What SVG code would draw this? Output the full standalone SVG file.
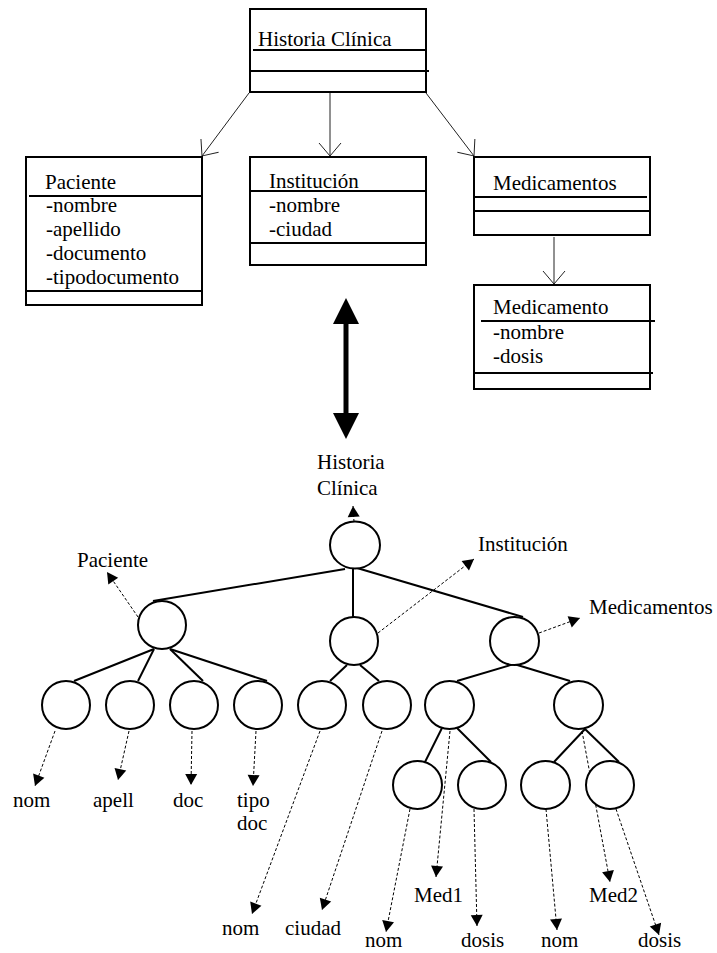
<svg xmlns="http://www.w3.org/2000/svg" width="717" height="953" viewBox="0 0 717 953" font-family="'Liberation Serif', 'Times New Roman', Times, 'DejaVu Serif', serif" font-size="21">
<style>
  text { font-family: "Liberation Serif", "Times New Roman", Times, "DejaVu Serif", serif; font-size: 21px; fill: #000; }
  .box { fill: #fff; stroke: #000; stroke-width: 2; }
  .sep { stroke: #000; stroke-width: 2; fill: none; }
  .uarr { stroke: #222; stroke-width: 1; fill: none; marker-end: url(#open); }
  .edge { stroke: #000; stroke-width: 2; fill: none; }
  .node { fill: #fff; stroke: #000; stroke-width: 2; }
  .dot { stroke: #000; stroke-width: 1; stroke-dasharray: 3 2; fill: none; marker-end: url(#tri); }
</style>
<defs>
  <marker id="open" markerUnits="userSpaceOnUse" markerWidth="16" markerHeight="24" refX="14" refY="11" orient="auto" overflow="visible">
    <path d="M1,0 L14,11 L1,22" fill="none" stroke="#222" stroke-width="1"/>
  </marker>
  <marker id="tri" markerUnits="userSpaceOnUse" markerWidth="12" markerHeight="12" refX="11" refY="6" orient="auto" overflow="visible">
    <path d="M0,0 L11,6 L0,12 z" fill="#000"/>
  </marker>
</defs>
<rect width="717" height="953" fill="#fff"/>

<g id="connectors">
  <!-- UML associations -->
  <line class="uarr" x1="249" y1="93" x2="202" y2="156"/>
  <line class="uarr" x1="330" y1="93" x2="330" y2="156"/>
  <line class="uarr" x1="426" y1="93" x2="474" y2="156"/>
  <line class="uarr" x1="554" y1="237" x2="554" y2="284"/>
  <!-- big double arrow -->
  <line x1="346" y1="323" x2="346" y2="414" stroke="#000" stroke-width="5"/>
  <path d="M346,298 L333,324 L359,324 Z" fill="#000"/>
  <path d="M346,439 L333,413 L359,413 Z" fill="#000"/>
  <!-- tree edges -->
  <line class="edge" x1="345" y1="569" x2="153" y2="601"/>
  <line class="edge" x1="353" y1="569" x2="353" y2="617"/>
  <line class="edge" x1="357" y1="568" x2="523" y2="617"/>
  <line class="edge" x1="154" y1="649" x2="74" y2="681"/>
  <line class="edge" x1="154" y1="649" x2="138" y2="681"/>
  <line class="edge" x1="170" y1="649" x2="203" y2="681"/>
  <line class="edge" x1="170" y1="649" x2="267" y2="681"/>
  <line class="edge" x1="347" y1="665" x2="330" y2="681"/>
  <line class="edge" x1="360" y1="665" x2="379" y2="681"/>
  <line class="edge" x1="514" y1="664" x2="457" y2="681"/>
  <line class="edge" x1="514" y1="664" x2="570" y2="681"/>
  <line class="edge" x1="442" y1="728" x2="425" y2="762"/>
  <line class="edge" x1="457" y1="728" x2="491" y2="762"/>
  <line class="edge" x1="585" y1="729" x2="554" y2="762"/>
  <line class="edge" x1="585" y1="729" x2="619" y2="762"/>
  <!-- dotted label arrows -->
  <line class="dot" x1="354" y1="522" x2="353" y2="506"/>
  <line class="dot" x1="138" y1="617" x2="107" y2="572"/>
  <line class="dot" x1="378" y1="633" x2="474" y2="559"/>
  <line class="dot" x1="539" y1="633" x2="580" y2="618"/>
  <line class="dot" x1="55" y1="731" x2="35" y2="786"/>
  <line class="dot" x1="129" y1="731" x2="118" y2="780"/>
  <line class="dot" x1="192" y1="731" x2="191" y2="785"/>
  <line class="dot" x1="256" y1="731" x2="253" y2="786"/>
  <line class="dot" x1="320" y1="731" x2="252" y2="914"/>
  <line class="dot" x1="382" y1="731" x2="322" y2="910"/>
  <line class="dot" x1="450" y1="731" x2="436" y2="877"/>
  <line class="dot" x1="410" y1="809" x2="386" y2="932"/>
  <line class="dot" x1="474" y1="809" x2="477" y2="926"/>
  <line class="dot" x1="546" y1="809" x2="557" y2="930"/>
  <line class="dot" x1="582" y1="731" x2="610" y2="882"/>
  <line class="dot" x1="616" y1="809" x2="659" y2="935"/>
</g>

<g id="class-historia">
  <rect class="box" x="250" y="9" width="176" height="83"/>
  <line class="sep" x1="253" y1="50" x2="426" y2="50"/>
  <line class="sep" x1="250" y1="71" x2="429" y2="71"/>
  <text x="258" y="46">Historia Clínica</text>
</g>
<g id="class-paciente">
  <rect class="box" x="26" y="157" width="176" height="148"/>
  <line class="sep" x1="29" y1="196" x2="202" y2="196"/>
  <line class="sep" x1="26" y1="291" x2="202" y2="291"/>
  <text x="45" y="189">Paciente</text>
  <text x="46" y="212">-nombre</text>
  <text x="46" y="236">-apellido</text>
  <text x="46" y="260">-documento</text>
  <text x="46" y="284">-tipodocumento</text>
</g>
<g id="class-institucion">
  <rect class="box" x="250" y="157" width="176" height="108"/>
  <line class="sep" x1="250" y1="191" x2="426" y2="191"/>
  <line class="sep" x1="250" y1="243" x2="426" y2="243"/>
  <text x="269" y="188">Institución</text>
  <text x="269" y="212">-nombre</text>
  <text x="269" y="236">-ciudad</text>
</g>
<g id="class-medicamentos">
  <rect class="box" x="474" y="157" width="176" height="78"/>
  <line class="sep" x1="475" y1="197" x2="647" y2="197"/>
  <line class="sep" x1="474" y1="211" x2="650" y2="211"/>
  <text x="493" y="190">Medicamentos</text>
</g>
<g id="class-medicamento">
  <rect class="box" x="474" y="285" width="176" height="104"/>
  <line class="sep" x1="481" y1="321" x2="655" y2="321"/>
  <line class="sep" x1="474" y1="373" x2="653" y2="373"/>
  <text x="493" y="314">Medicamento</text>
  <text x="493" y="339">-nombre</text>
  <text x="493" y="363">-dosis</text>
</g>

<g id="node-root">
  <ellipse class="node" cx="355" cy="545" rx="25" ry="23.5"/>
  <text x="317" y="469">Historia</text>
  <text x="317" y="495">Clínica</text>
</g>
<g id="node-paciente">
  <ellipse class="node" cx="162" cy="625" rx="24" ry="24"/>
  <text x="77" y="567">Paciente</text>
</g>
<g id="node-institucion">
  <ellipse class="node" cx="354" cy="641" rx="24" ry="24"/>
  <text x="478" y="551">Institución</text>
</g>
<g id="node-medicamentos">
  <ellipse class="node" cx="514.5" cy="641" rx="24.5" ry="24"/>
  <text x="589" y="614">Medicamentos</text>
</g>
<g id="node-nom1">
  <ellipse class="node" cx="66" cy="705" rx="24" ry="24"/>
  <text x="13" y="807">nom</text>
</g>
<g id="node-apell">
  <ellipse class="node" cx="130" cy="705" rx="24" ry="24"/>
  <text x="93" y="807">apell</text>
</g>
<g id="node-doc">
  <ellipse class="node" cx="194" cy="705" rx="24" ry="24"/>
  <text x="173" y="807">doc</text>
</g>
<g id="node-tipodoc">
  <ellipse class="node" cx="258" cy="705" rx="24" ry="24"/>
  <text x="237" y="807">tipo</text>
  <text x="237" y="830">doc</text>
</g>
<g id="node-nom2">
  <ellipse class="node" cx="322" cy="705" rx="24" ry="24"/>
  <text x="222" y="935">nom</text>
</g>
<g id="node-ciudad">
  <ellipse class="node" cx="387" cy="705" rx="24" ry="24"/>
  <text x="285" y="935">ciudad</text>
</g>
<g id="node-med1">
  <ellipse class="node" cx="449.5" cy="705" rx="24.5" ry="24"/>
  <text x="414" y="902">Med1</text>
</g>
<g id="node-med2">
  <ellipse class="node" cx="578.5" cy="705" rx="24.5" ry="24"/>
  <text x="589" y="902">Med2</text>
</g>
<g id="node-nom3">
  <ellipse class="node" cx="417.5" cy="785" rx="24.5" ry="24"/>
  <text x="365" y="947">nom</text>
</g>
<g id="node-dosis1">
  <ellipse class="node" cx="482" cy="785" rx="24" ry="24"/>
  <text x="461" y="947">dosis</text>
</g>
<g id="node-nom4">
  <ellipse class="node" cx="545.5" cy="785" rx="24.5" ry="24"/>
  <text x="541" y="947">nom</text>
</g>
<g id="node-dosis2">
  <ellipse class="node" cx="610" cy="785" rx="24" ry="24"/>
  <text x="638" y="947">dosis</text>
</g>
</svg>
